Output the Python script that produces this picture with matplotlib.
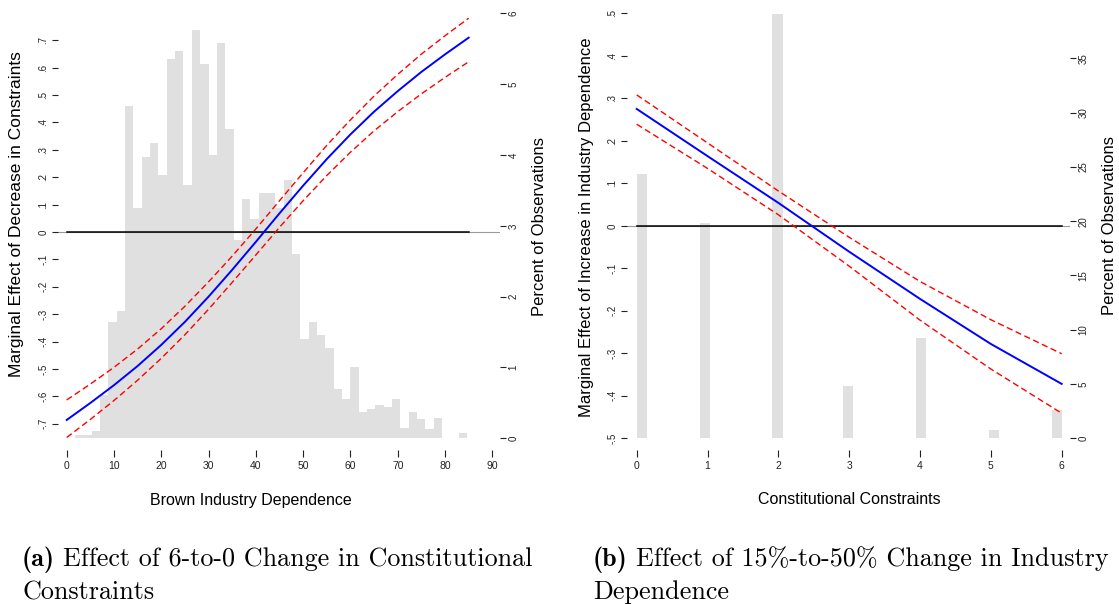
import numpy as np
import matplotlib
matplotlib.use("Agg")
import matplotlib.pyplot as plt
from matplotlib.ticker import FixedLocator, FuncFormatter

# ---- panel (a): effect of constraints over brown industry dependence ----
dep = [0, 5, 10, 15, 20, 25, 30, 35, 40, 45, 50, 55, 60, 65, 70, 75, 80, 85]
eff_a = [-0.686, -0.624, -0.559, -0.489, -0.412, -0.328, -0.236, -0.138, -0.036,
         0.068, 0.169, 0.266, 0.356, 0.439, 0.514, 0.584, 0.648, 0.709]
upper_a = [-0.613, -0.555, -0.494, -0.427, -0.353, -0.271, -0.182, -0.088, 0.011,
           0.114, 0.216, 0.316, 0.409, 0.496, 0.575, 0.649, 0.716, 0.780]
lower_a = [-0.750, -0.684, -0.615, -0.541, -0.461, -0.375, -0.282, -0.184, -0.084,
           0.017, 0.114, 0.206, 0.291, 0.369, 0.439, 0.504, 0.564, 0.621]

# histogram of dependence (percent of observations), bins start at first_bin * bin_width
bin_width = 1.764
first_bin = 1
hist_a = [0.05, 0.05, 0.11, 0.61, 1.64, 1.80, 4.69, 3.25, 3.97, 4.17, 3.72, 5.36,
          5.47, 3.57, 5.77, 5.28, 4.00, 5.58, 4.36, 2.80, 3.38, 3.09, 3.46, 3.47,
          3.25, 3.65, 2.60, 1.40, 1.64, 1.46, 1.27, 0.70, 0.55, 1.00, 0.37, 0.42,
          0.47, 0.44, 0.56, 0.15, 0.37, 0.27, 0.13, 0.29, 0.00, 0.00, 0.08]

xticks_a = [0, 10, 20, 30, 40, 50, 60, 70, 80, 90]
yticks_a = [-0.7, -0.6, -0.5, -0.4, -0.3, -0.2, -0.1, 0, 0.1, 0.2, 0.3, 0.4, 0.5, 0.6, 0.7]
pticks_a = [0, 1, 2, 3, 4, 5, 6]

# ---- panel (b): effect of industry dependence over constitutional constraints ----
constr = [0, 1, 2, 3, 4, 5, 6]
eff_b = [0.275, 0.164, 0.054, -0.061, -0.172, -0.278, -0.372]
upper_b = [0.308, 0.195, 0.082, -0.027, -0.131, -0.221, -0.301]
lower_b = [0.239, 0.135, 0.026, -0.095, -0.222, -0.337, -0.441]

hist_b_left = [0.0, 0.89, 1.91, 2.91, 3.94, 4.97, 5.86]
hist_b = [24.3, 19.85, 39.1, 4.8, 9.2, 0.76, 2.6]
bar_width_b = 0.15

xticks_b = [0, 1, 2, 3, 4, 5, 6]
yticks_b = [-0.5, -0.4, -0.3, -0.2, -0.1, 0, 0.1, 0.2, 0.3, 0.4, 0.5]
pticks_b = [0, 5, 10, 15, 20, 25, 30, 35]

W, H = 1119, 604
fig = plt.figure(figsize=(W / 100, H / 100), dpi=100)

sans = ['Liberation Sans', 'DejaVu Sans']
HIST_COL = '#e0e0e0'


def stata_num(v, pos=None):
    s = ('%.1f' % v).rstrip('0').rstrip('.')
    if s in ('-0', ''):
        s = '0'
    s = s.replace('0.', '.')
    return s


def px_rect(x0, x1, y0, y1):
    # pixel box (top-left origin) -> figure fraction
    return [x0 / W, 1 - y1 / H, (x1 - x0) / W, (y1 - y0) / H]


def panel(rect, xlim, ylim, plim, xticks, yticks, pticks):
    axh = fig.add_axes(rect)
    axl = axh.twinx()
    for a in (axh, axl):
        for s in a.spines.values():
            s.set_visible(False)
        a.set_xlim(*xlim)
        a.patch.set_visible(False)
    axh.set_ylim(*plim)
    axl.set_ylim(*ylim)
    # histogram scale on the right, effect scale on the left
    axh.yaxis.tick_right()
    axl.yaxis.tick_left()
    axh.xaxis.set_major_locator(FixedLocator(xticks))
    axh.yaxis.set_major_locator(FixedLocator(pticks))
    axl.yaxis.set_major_locator(FixedLocator(yticks))
    axl.yaxis.set_major_formatter(FuncFormatter(stata_num))
    axh.yaxis.set_major_formatter(FuncFormatter(lambda v, p: '%d' % v))
    axh.xaxis.set_major_formatter(FuncFormatter(lambda v, p: '%d' % v))
    axh.tick_params(axis='x', direction='out', length=5, width=0.8, pad=3,
                    labelsize=7.5, colors='#222222')
    axh.tick_params(axis='y', direction='out', length=4, width=0.8, pad=2,
                    labelsize=7, colors='#222222', left=False, right=True,
                    labelleft=False, labelright=True)
    axl.tick_params(axis='y', direction='out', length=4, width=0.8, pad=3,
                    labelsize=7, colors='#222222', left=True, right=False,
                    labelleft=True, labelright=False)
    for lab in axh.get_xticklabels():
        lab.set_family(sans)
    for lab in axh.get_yticklabels() + axl.get_yticklabels():
        lab.set_family(sans)
        lab.set_rotation(90)
        lab.set_va('center')
    return axh, axl


def draw_effect(axl, x, eff, up, lo):
    axl.axhline(0, color='#9a9a9a', lw=0.8, zorder=1)
    axl.plot([x[0], x[-1]], [0, 0], color='black', lw=1.1, zorder=2)
    axl.plot(x, up, color='red', lw=1.0, dashes=(4.5, 2.5), zorder=3)
    axl.plot(x, lo, color='red', lw=1.0, dashes=(4.5, 2.5), zorder=3)
    axl.plot(x, eff, color='blue', lw=1.4, zorder=4)


# panel (a)
axh_a, axl_a = panel(px_rect(58, 500, 10, 450), (-1.84, 91.63), (-0.7956, 0.810),
                     (-0.165, 6.047), xticks_a, yticks_a, pticks_a)
lefts_a = [(first_bin + i) * bin_width for i in range(len(hist_a))]
axh_a.bar(lefts_a, hist_a, width=bin_width, align='edge', color=HIST_COL,
          edgecolor='none', zorder=1)
draw_effect(axl_a, dep, eff_a, upper_a, lower_a)

# panel (b)
axh_b, axl_b = panel(px_rect(627, 1070, 10, 450), (-0.137, 6.117), (-0.5275, 0.5078),
                     (-1.078, 39.45), xticks_b, yticks_b, pticks_b)
axh_b.bar(hist_b_left, hist_b, width=bar_width_b, align='edge', color=HIST_COL,
          edgecolor='none', zorder=1)
draw_effect(axl_b, constr, eff_b, upper_b, lower_b)

# axis titles
lab_kw = dict(family=sans, color='black', ha='center', va='center')
fig.text(251 / W, 1 - 500 / H, 'Brown Industry Dependence', fontsize=11.5, **lab_kw)
fig.text(849 / W, 1 - 500 / H, 'Constitutional Constraints', fontsize=11.5, **lab_kw)
fig.text(17 / W, 1 - 214 / H, 'Marginal Effect of Decrease in Constraints',
         rotation=90, fontsize=12.5, **lab_kw)
fig.text(540 / W, 1 - 226 / H, 'Percent of Observations', rotation=90, fontsize=12, **lab_kw)
fig.text(587 / W, 1 - 227 / H, 'Marginal Effect of Increase in Industry Dependence',
         rotation=90, fontsize=12, **lab_kw)
fig.text(1110 / W, 1 - 225 / H, 'Percent of Observations', rotation=90, fontsize=12, **lab_kw)

# sub-captions in Computer Modern
renderer = fig.canvas.get_renderer()
CAP_SIZE = 18.8


def caption(x, y, tag, line1, line2):
    t = fig.text(x / W, 1 - y / H, tag, family='cmb10', fontsize=CAP_SIZE, va='baseline')
    bb = t.get_window_extent(renderer)
    fig.text((bb.x1 + 8) / W, 1 - y / H, line1, family='cmr10', fontsize=CAP_SIZE,
             va='baseline')
    fig.text(x / W, 1 - (y + 33) / H, line2, family='cmr10', fontsize=CAP_SIZE,
             va='baseline')


caption(22, 566, '(a)', 'Effect of 6-to-0 Change in Constitutional', 'Constraints')
caption(593, 566, '(b)', 'Effect of 15%-to-50% Change in Industry', 'Dependence')

fig.savefig('out.png', dpi=100)
